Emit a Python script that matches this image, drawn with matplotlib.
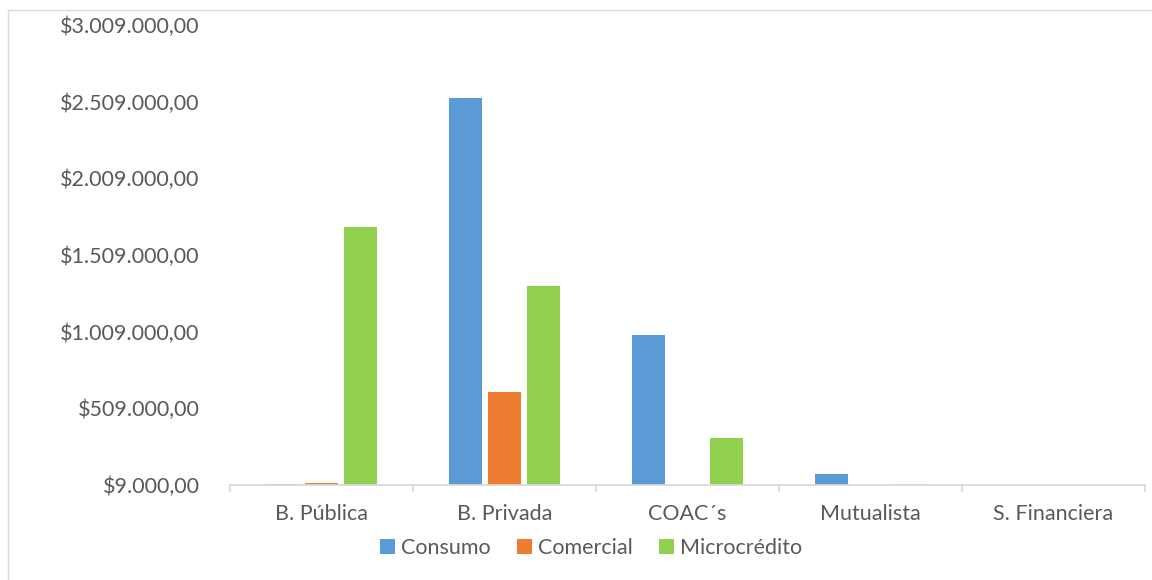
import matplotlib
matplotlib.use("Agg")
import matplotlib.pyplot as plt
from matplotlib.patches import Rectangle
import numpy as np

categories = ["B. Pública", "B. Privada", "COAC´s", "Mutualista", "S. Financiera"]
consumo = [14000, 2531000, 989000, 81000, 12000]
comercial = [20000, 617000, 0, 0, 0]
microcredito = [1694000, 1309000, 316000, 13000, 0]
series_names = ["Consumo", "Comercial", "Microcrédito"]
colors = ["#5B9BD5", "#ED7D31", "#92D050"]
yticks = [9000, 509000, 1009000, 1509000, 2009000, 2509000, 3009000]

def fmt(v):
    s = f"{v:,.2f}"
    s = s.replace(",", "X").replace(".", ",").replace("X", ".")
    return "$" + s

plt.rcParams['font.family'] = ['Lato', 'DejaVu Sans']
FS = 15.5
TXT = "#595959"
fig = plt.figure(figsize=(11.52, 5.8), dpi=100)
ax = fig.add_axes([230/1152, 1-485/580, 915/1152, 460/580])

x = np.arange(len(categories))
w = 0.18
off = 0.215
for i, (vals, name, c) in enumerate(zip([consumo, comercial, microcredito], series_names, colors)):
    ax.bar(x + (i-1)*off, vals, width=w, color=c, label=name, zorder=2)

ax.set_ylim(9000, 3009000)
ax.set_xlim(-0.5, len(categories)-0.5)
ax.set_yticks(yticks)
ax.set_yticklabels([fmt(v) for v in yticks], fontsize=FS, color=TXT)
ax.tick_params(axis='y', length=0, pad=22)
ax.set_xticks(x)
ax.set_xticklabels(categories, fontsize=FS, color=TXT)
ax.tick_params(axis='x', length=0, pad=14)
for s in ['top', 'right', 'left']:
    ax.spines[s].set_visible(False)
ax.spines['bottom'].set_color("#D9D9D9")
ax.spines['bottom'].set_linewidth(1.3)
ax.spines['bottom'].set_zorder(3)
for b in np.arange(-0.5, len(categories), 1.0):
    ax.plot([b, b], [0, -0.012], transform=ax.get_xaxis_transform(), color="#D9D9D9", lw=1.3, clip_on=False)

leg = fig.legend(loc='center', bbox_to_anchor=(591/1152, 1-548/580), ncol=3, frameon=False,
                 fontsize=FS, handlelength=0.7, handleheight=0.7, handletextpad=0.3, columnspacing=1.2)
for t in leg.get_texts():
    t.set_color(TXT)

fig.patches.append(Rectangle((8/1152, -0.01), 1.0, 1-10/580+0.01, transform=fig.transFigure,
                             fill=False, edgecolor="#D9D9D9", lw=1.0))
fig.savefig("out.png", dpi=100, facecolor="white")
